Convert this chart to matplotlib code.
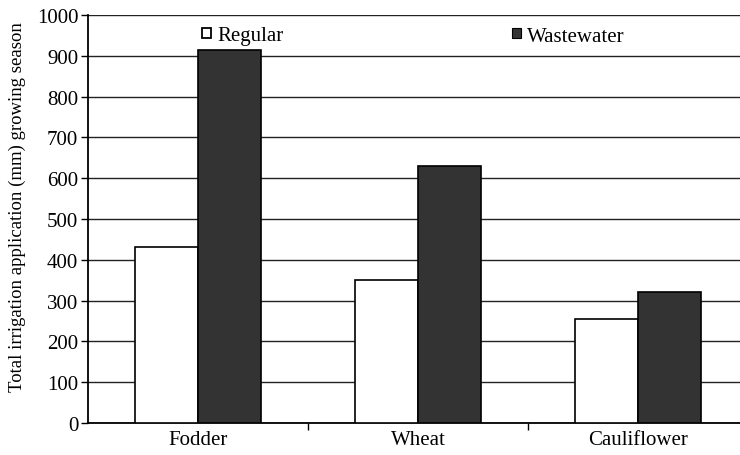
import numpy as np
import matplotlib.pyplot as plt
from matplotlib.patches import Patch

# data
crops = ['Fodder', 'Wheat', 'Cauliflower']
regular = [432, 351, 256]
wastewater = [913, 630, 321]

plt.rcParams['font.family'] = ['Liberation Serif', 'DejaVu Serif']

W, H = 740, 456
fig = plt.figure(figsize=(W / 100, H / 100), dpi=100)
# axes runs a bit past the right edge of the figure, like the cropped original
ax = fig.add_axes([88 / W, 1 - 424 / H, 660 / W, 408 / H])

x = np.arange(len(crops))
w = 0.286
ax.bar(x - w / 2, regular, w, color='white', edgecolor='black', linewidth=1.2,
       zorder=3)
ax.bar(x + w / 2, wastewater, w, color='#333333', edgecolor='black', linewidth=1.2,
       zorder=3)

ax.set_xlim(-0.5, 2.5)
ax.set_ylim(0, 1000)
ax.set_yticks(np.arange(0, 1001, 100))
ax.yaxis.grid(True, color='#222222', linewidth=1.0, zorder=0)
ax.tick_params(axis='y', labelsize=15, length=5, width=1, direction='out', pad=2)

ax.set_xticks(x)
ax.set_xticklabels(crops, fontsize=15)
ax.tick_params(axis='x', which='major', length=0, pad=5)
ax.set_xticks([0.5, 1.5], minor=True)
ax.tick_params(axis='x', which='minor', length=5, width=1, direction='out')

for s in ['top', 'right']:
    ax.spines[s].set_visible(False)
ax.spines['left'].set_linewidth(1.3)
ax.spines['bottom'].set_linewidth(1.3)

ax.set_ylabel('Total irrigation application (mm) growing season', fontsize=13.5)
ax.yaxis.set_label_coords((26 - 88) / 660, (424 - 207) / 408)

# two legend entries placed separately, as in the original
leg_kw = dict(frameon=False, loc='center left', fontsize=15, borderpad=0,
              borderaxespad=0, handlelength=0.42, handleheight=0.42,
              handletextpad=0.3, bbox_transform=fig.transFigure)
leg1 = ax.legend([Patch(facecolor='white', edgecolor='black', linewidth=1.3)],
                 ['Regular'], bbox_to_anchor=(202 / W, 1 - 37 / H), **leg_kw)
ax.add_artist(leg1)
ax.legend([Patch(facecolor='#333333', edgecolor='black', linewidth=0.8)],
          ['Wastewater'], bbox_to_anchor=(512 / W, 1 - 37 / H), **leg_kw)

fig.savefig('out.png', dpi=100, facecolor='white')
